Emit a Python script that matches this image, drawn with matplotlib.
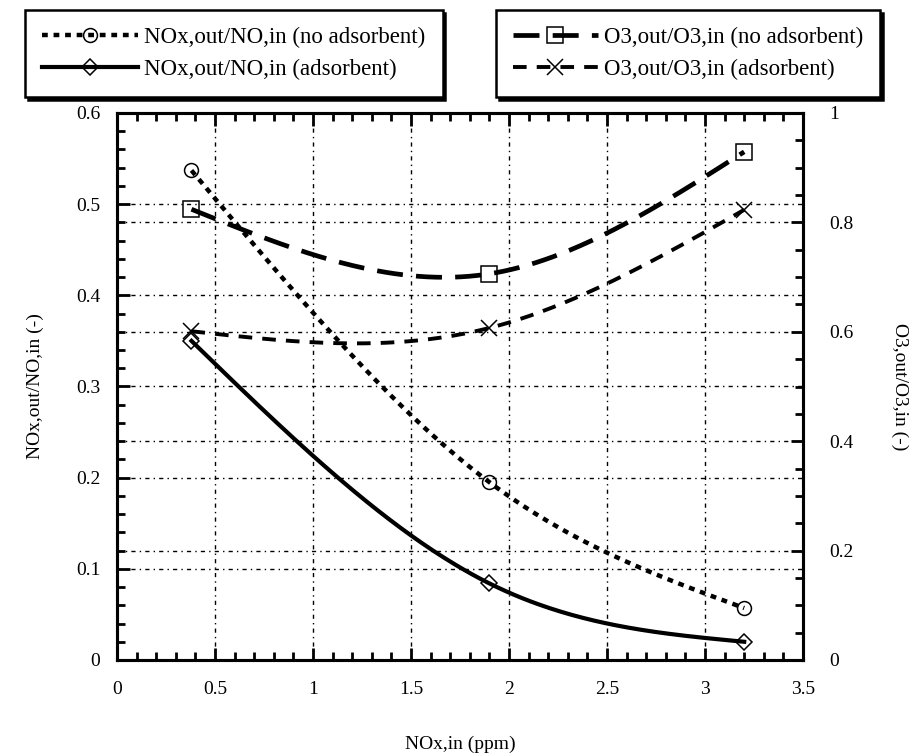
import matplotlib
matplotlib.use('Agg')
import matplotlib.pyplot as plt
from matplotlib.ticker import MultipleLocator, FuncFormatter
import numpy as np

plt.rcParams['font.family'] = ['Liberation Serif', 'DejaVu Serif']
plt.rcParams['font.size'] = 14

# inlet NOx concentration (ppm)
nox_in = [0.38, 1.9, 3.2]

# left axis: NOx,out/NO,in
nox_no_ads = [0.537, 0.195, 0.057]
nox_ads = [0.350, 0.084, 0.020]

# right axis: O3,out/O3,in
o3_no_ads = [0.824, 0.706, 0.929]
o3_ads = [0.601, 0.607, 0.823]

labels = ['NOx,out/NO,in (no adsorbent)', 'NOx,out/NO,in (adsorbent)',
          'O3,out/O3,in (no adsorbent)', 'O3,out/O3,in (adsorbent)']


def smooth(x, y, num=200):
    # natural cubic spline through the measured points
    x = np.asarray(x, float)
    y = np.asarray(y, float)
    n = len(x)
    h = np.diff(x)
    A = np.zeros((n, n))
    r = np.zeros(n)
    A[0, 0] = A[-1, -1] = 1
    for i in range(1, n - 1):
        A[i, i - 1] = h[i - 1]
        A[i, i] = 2 * (h[i - 1] + h[i])
        A[i, i + 1] = h[i]
        r[i] = 6 * ((y[i + 1] - y[i]) / h[i] - (y[i] - y[i - 1]) / h[i - 1])
    M = np.linalg.solve(A, r)
    xs = np.linspace(x[0], x[-1], num)
    k = np.clip(np.searchsorted(x, xs) - 1, 0, n - 2)
    a = x[k + 1] - xs
    b = xs - x[k]
    hk = h[k]
    ys = (M[k] * a**3 + M[k + 1] * b**3) / (6 * hk) \
        + (y[k] / hk - M[k] * hk / 6) * a + (y[k + 1] / hk - M[k + 1] * hk / 6) * b
    return xs, ys


fig = plt.figure(figsize=(9.17, 7.55), dpi=100)
ax = fig.add_axes([117/917, 1-660/755, 686/917, 547/755])
ax2 = ax.twinx()

mk = dict(fillstyle='none', markeredgecolor='black', markeredgewidth=1.1, markersize=10)
st_no = dict(color='black', lw=3.2, ls=(0, (1.3, 1.3)))
st_ad = dict(color='black', lw=3.0, ls='-')
st_o3no = dict(color='black', lw=3.4, ls=(0, (5.5, 2.8)))
st_o3ad = dict(color='black', lw=2.8, ls=(0, (3.5, 2.6)))

ax.plot(*smooth(nox_in, nox_no_ads), **st_no)
ax.plot(nox_in, nox_no_ads, 'o', **mk)
ax.plot(*smooth(nox_in, nox_ads), **st_ad)
ax.plot(nox_in, nox_ads, 'D', **dict(mk, markersize=8.5))

ax2.plot(*smooth(nox_in, o3_no_ads), **st_o3no)
ax2.plot(nox_in, o3_no_ads, 's', **dict(mk, markersize=11))
ax2.plot(*smooth(nox_in, o3_ads), **st_o3ad)
ax2.plot(nox_in, o3_ads, 'x', **dict(mk, markersize=11))

# legend handles: line + marker
h1, = ax.plot([], [], marker='o', **st_no, **mk)
h2, = ax.plot([], [], marker='D', **st_ad, **dict(mk, markersize=8.5))
h3, = ax2.plot([], [], marker='s', **st_o3no, **dict(mk, markersize=11))
h4, = ax2.plot([], [], marker='x', **st_o3ad, **dict(mk, markersize=11))

ax.set_xlim(0, 3.5)
ax.set_ylim(0, 0.6)
ax2.set_ylim(0, 1)

fmt = FuncFormatter(lambda v, p: '%g' % round(v, 2))
ax.xaxis.set_major_locator(MultipleLocator(0.5))
ax.xaxis.set_minor_locator(MultipleLocator(0.1))
ax.yaxis.set_major_locator(MultipleLocator(0.1))
ax.yaxis.set_minor_locator(MultipleLocator(0.02))
ax2.yaxis.set_major_locator(MultipleLocator(0.2))
ax2.yaxis.set_minor_locator(MultipleLocator(0.05))
ax.xaxis.set_major_formatter(fmt)
ax.yaxis.set_major_formatter(fmt)
ax2.yaxis.set_major_formatter(fmt)

grid_ls = (0, (3, 3, 1, 3))
ax.grid(True, which='major', color='black', lw=1.0, ls=grid_ls)
ax2.grid(True, which='major', axis='y', color='black', lw=1.0, ls=grid_ls)

ax.tick_params(which='both', direction='in', top=True, right=False, width=2)
ax.tick_params(which='major', length=9)
ax.tick_params(which='minor', length=6)
ax.tick_params(axis='x', pad=15)
ax.tick_params(axis='y', pad=12)
ax2.tick_params(which='both', direction='in', width=2)
ax2.tick_params(which='major', length=9, pad=19)
ax2.tick_params(which='minor', length=6)

for a in (ax, ax2):
    for s in a.spines.values():
        s.set_linewidth(2.2)

ax.set_xlabel('NOx,in (ppm)', labelpad=27)
ax.set_ylabel('NOx,out/NO,in (-)', labelpad=23)
ax2.set_ylabel('O3,out/O3,in (-)', rotation=270, labelpad=39)

shadow = {'color': 'black', 'alpha': 1}
leg_kw = dict(fontsize=16.5, handletextpad=0.25, labelspacing=0.45, borderpad=0.75,
              borderaxespad=0, fancybox=False, framealpha=1, edgecolor='black',
              shadow=shadow)
leg1 = fig.legend(handles=[h1, h2], labels=labels[:2], loc='upper left',
                  bbox_to_anchor=(25/917, 1-10/755), handlelength=4.2, **leg_kw)
leg2 = fig.legend(handles=[h3, h4], labels=labels[2:], loc='upper right',
                  bbox_to_anchor=(880/917, 1-10/755), handlelength=3.7, **leg_kw)
for lg in (leg1, leg2):
    lg.get_frame().set_linewidth(1.8)

fig.savefig('out.png', dpi=100)
